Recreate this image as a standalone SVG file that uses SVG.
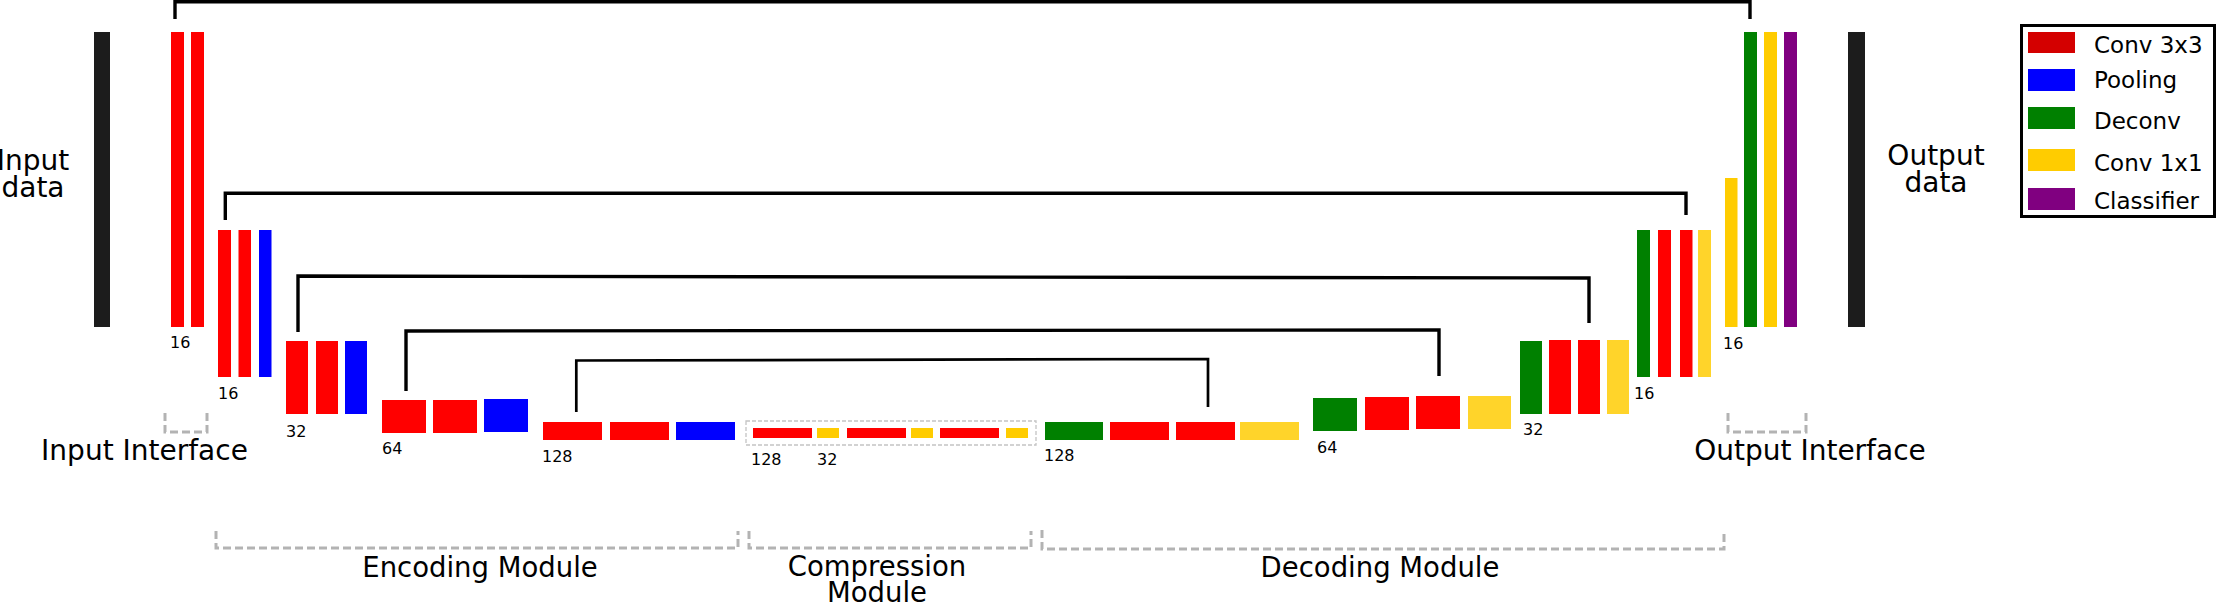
<svg xmlns="http://www.w3.org/2000/svg" width="2216" height="603" viewBox="0 0 2216 603">
<style>
  .r{fill:#ff0000}
  .b{fill:#0000ff}
  .g{fill:#008000}
  .y{fill:#ffcc00}
  .y2{fill:#ffd42a}
  .p{fill:#800080}
  .k{fill:#1c1c1c}
  text{font-family:"DejaVu Sans","Liberation Sans",sans-serif;fill:#000}
  .n{font-size:16px}
  .big{font-size:28px}
  .mod{font-size:27.5px}
  .leg{font-size:23px}
  .skip{fill:none;stroke:#000;stroke-width:3.4}
  .dash{fill:none;stroke:#b3b3b3;stroke-width:3;stroke-dasharray:8 4}
</style>

<g id="input">
  <rect class="k" x="94" y="32" width="16" height="295"/>
  <text class="big" x="33" y="170" text-anchor="middle">Input</text>
  <text class="big" x="33" y="197" text-anchor="middle">data</text>
</g>

<g id="enc1">
  <rect class="r" x="171" y="32" width="13" height="295"/>
  <rect class="r" x="191" y="32" width="13" height="295"/>
  <text class="n" x="170" y="348">16</text>
</g>
<g id="enc2">
  <rect class="r" x="218" y="230" width="13" height="147"/>
  <rect class="r" x="238.5" y="230" width="12.5" height="147"/>
  <rect class="b" x="259" y="230" width="12.5" height="147"/>
  <text class="n" x="218" y="399">16</text>
</g>
<g id="enc3">
  <rect class="r" x="286" y="341" width="22" height="73"/>
  <rect class="r" x="316" y="341" width="22" height="73"/>
  <rect class="b" x="345" y="341" width="22" height="73"/>
  <text class="n" x="286" y="437">32</text>
</g>
<g id="enc4">
  <rect class="r" x="382" y="400" width="44" height="33"/>
  <rect class="r" x="433" y="400" width="44" height="33"/>
  <rect class="b" x="484" y="399" width="44" height="33"/>
  <text class="n" x="382" y="454">64</text>
</g>
<g id="enc5">
  <rect class="r" x="543" y="422" width="59" height="18"/>
  <rect class="r" x="610" y="422" width="59" height="18"/>
  <rect class="b" x="676" y="422" width="59" height="18"/>
  <text class="n" x="542" y="462">128</text>
</g>

<g id="compression">
  <rect x="746" y="421" width="290" height="24" fill="none" stroke="#c4c4c4" stroke-width="1.3" stroke-dasharray="4 2"/>
  <rect class="r" x="753" y="428" width="59" height="10"/>
  <rect class="y" x="817" y="428" width="22" height="10"/>
  <rect class="r" x="847" y="428" width="59" height="10"/>
  <rect class="y" x="911" y="428" width="22" height="10"/>
  <rect class="r" x="940" y="428" width="59" height="10"/>
  <rect class="y" x="1006" y="428" width="22" height="10"/>
  <text class="n" x="751" y="465">128</text>
  <text class="n" x="817" y="465">32</text>
</g>

<g id="dec1">
  <rect class="g" x="1045" y="422" width="58" height="18"/>
  <rect class="r" x="1110" y="422" width="59" height="18"/>
  <rect class="r" x="1176" y="422" width="59" height="18"/>
  <rect class="y2" x="1240" y="422" width="59" height="18"/>
  <text class="n" x="1044" y="461">128</text>
</g>
<g id="dec2">
  <rect class="g" x="1313" y="398" width="44" height="33"/>
  <rect class="r" x="1365" y="397" width="44" height="33"/>
  <rect class="r" x="1416" y="396" width="44" height="33"/>
  <rect class="y2" x="1468" y="396" width="43" height="33"/>
  <text class="n" x="1317" y="453">64</text>
</g>
<g id="dec3">
  <rect class="g" x="1520" y="341" width="22" height="73"/>
  <rect class="r" x="1549" y="340" width="22" height="74"/>
  <rect class="r" x="1578" y="340" width="22" height="74"/>
  <rect class="y2" x="1607" y="340" width="22" height="74"/>
  <text class="n" x="1523" y="435">32</text>
</g>
<g id="dec4">
  <rect class="g" x="1637" y="230" width="13" height="147"/>
  <rect class="r" x="1658" y="230" width="13" height="147"/>
  <rect class="r" x="1680" y="230" width="12.5" height="147"/>
  <rect class="y2" x="1698" y="230" width="13" height="147"/>
  <text class="n" x="1634" y="399">16</text>
</g>
<g id="outstage">
  <rect class="y" x="1725" y="178" width="12.5" height="149"/>
  <rect class="g" x="1744" y="32" width="13" height="295"/>
  <rect class="y" x="1764" y="32" width="13" height="295"/>
  <rect class="p" x="1784" y="32" width="13" height="295"/>
  <text class="n" x="1723" y="349">16</text>
</g>

<g id="output">
  <rect class="k" x="1848" y="32" width="17" height="295"/>
  <text class="big" x="1936" y="165" text-anchor="middle">Output</text>
  <text class="big" x="1936" y="192" text-anchor="middle">data</text>
</g>

<g id="connectors">
  <path class="skip" d="M175,19 V1.7 H1750 V19"/>
  <path class="skip" d="M225.3,220 V193.3 H1686 V215"/>
  <path class="skip" d="M298,332 V276 L1589,278 V323"/>
  <path class="skip" d="M406,391 V331 L1439,330 V376"/>
  <path class="skip" style="stroke-width:2.7" d="M576.3,412 V360.5 L1208,359 V407"/>
</g>

<g id="groups">
  <path class="dash" d="M165,413 V432 H207 V413"/>
  <text class="big" x="144.5" y="460" text-anchor="middle">Input Interface</text>
  <path class="dash" d="M1728,413 V432 H1806 V413"/>
  <text class="big" x="1810" y="460" text-anchor="middle">Output Interface</text>
  <path class="dash" d="M216,531 V548 H738 V531"/>
  <text class="mod" x="480" y="577" text-anchor="middle">Encoding Module</text>
  <path class="dash" d="M749,531 V548 H1031 V531"/>
  <text class="mod" x="877" y="576" text-anchor="middle">Compression</text>
  <text class="mod" x="877" y="602" text-anchor="middle">Module</text>
  <path class="dash" d="M1042,530 V549 H1724 V530"/>
  <text class="mod" x="1380" y="577" text-anchor="middle">Decoding Module</text>
</g>

<g id="legend">
  <rect x="2021.5" y="25.5" width="193" height="191" fill="#fff" stroke="#000" stroke-width="3"/>
  <rect x="2028" y="32" width="47" height="21" fill="#d40000"/>
  <rect class="b" x="2028" y="69" width="47" height="22"/>
  <rect class="g" x="2028" y="107" width="47" height="22"/>
  <rect class="y" x="2028" y="149" width="47" height="22"/>
  <rect class="p" x="2028" y="188" width="47" height="22"/>
  <text class="leg" x="2094" y="53">Conv 3x3</text>
  <text class="leg" x="2094" y="88">Pooling</text>
  <text class="leg" x="2094" y="129">Deconv</text>
  <text class="leg" x="2094" y="171">Conv 1x1</text>
  <text class="leg" x="2094" y="209">Classifier</text>
</g>
</svg>
